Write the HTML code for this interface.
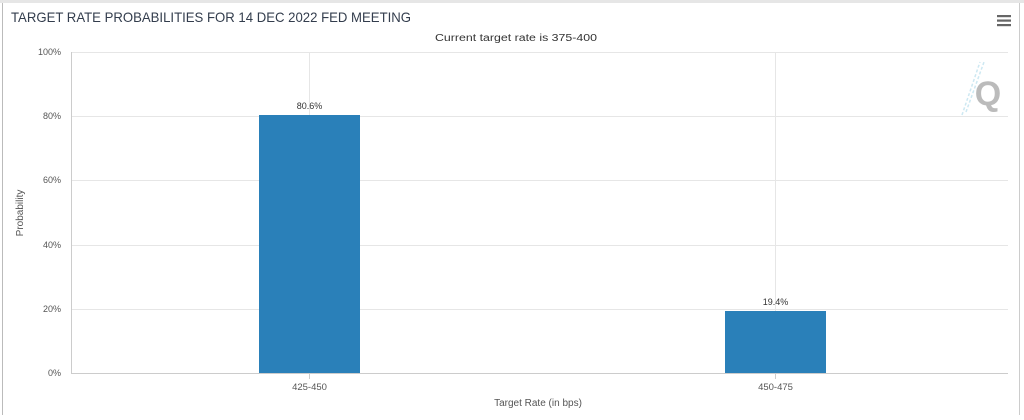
<!DOCTYPE html>
<html><head><style>
body{margin:0;width:1024px;height:415px;background:#fff;overflow:hidden;font-family:"Liberation Sans",sans-serif}
</style></head><body>
<svg width="1024" height="415" xmlns="http://www.w3.org/2000/svg" font-family="Liberation Sans, sans-serif">
<rect x="0" y="0" width="1024" height="3" fill="#e6e6e6"/>
<line x1="2.5" y1="3" x2="2.5" y2="415" stroke="#bbb"/>
<line x1="1019.5" y1="3" x2="1019.5" y2="415" stroke="#ccc"/>
<text x="11" y="22" font-size="14" fill="#333d4d" textLength="400" lengthAdjust="spacingAndGlyphs">TARGET RATE PROBABILITIES FOR 14 DEC 2022 FED MEETING</text>
<text x="516" y="41" font-size="10" fill="#333" text-anchor="middle" textLength="162" lengthAdjust="spacingAndGlyphs">Current target rate is 375-400</text>
<g fill="#666">
<rect x="997" y="15" width="14" height="2.2"/><rect x="997" y="19.5" width="14" height="2.2"/><rect x="997" y="24" width="14" height="2.2"/>
</g>
<g stroke="#e6e6e6" stroke-width="1">
<line x1="71" y1="52.5" x2="1008" y2="52.5"/><line x1="71" y1="116.5" x2="1008" y2="116.5"/>
<line x1="71" y1="180.5" x2="1008" y2="180.5"/><line x1="71" y1="245.5" x2="1008" y2="245.5"/>
<line x1="71" y1="309.5" x2="1008" y2="309.5"/>
<line x1="309.5" y1="52" x2="309.5" y2="373"/><line x1="775.5" y1="52" x2="775.5" y2="373"/>
</g>
<text x="988" y="105" font-size="34" font-weight="bold" fill="#bbb" text-anchor="middle">Q</text>
<g stroke="#cde8f2" stroke-width="1.5" stroke-dasharray="3,2"><line x1="962" y1="115" x2="980" y2="62"/><line x1="966" y1="112" x2="984" y2="62"/></g>
<line x1="71.5" y1="52" x2="71.5" y2="374" stroke="#ccc"/>
<line x1="71" y1="373.5" x2="1008" y2="373.5" stroke="#ccc"/>
<line x1="309.5" y1="374" x2="309.5" y2="379" stroke="#ccc"/><line x1="775.5" y1="374" x2="775.5" y2="379" stroke="#ccc"/>
<g font-size="9" fill="#555" text-anchor="end">
<text x="61" y="55">100%</text><text x="61" y="119">80%</text><text x="61" y="183">60%</text>
<text x="61" y="248">40%</text><text x="61" y="312">20%</text><text x="61" y="376">0%</text>
</g>
<rect x="259" y="115" width="101" height="258" fill="#2a80b9"/>
<rect x="725" y="311" width="101" height="62" fill="#2a80b9"/>
<g font-size="9" fill="#333" text-anchor="middle">
<text x="309.5" y="109">80.6%</text><text x="775.5" y="305">19.4%</text>
</g>
<g font-size="9.5" fill="#555" text-anchor="middle">
<text x="309.5" y="390">425-450</text><text x="775.5" y="390">450-475</text>
</g>
<text x="538" y="406" font-size="10" fill="#555" text-anchor="middle">Target Rate (in bps)</text>
<text transform="translate(23,213) rotate(-90)" font-size="10" fill="#555" text-anchor="middle">Probability</text>
</svg>
</body></html>
